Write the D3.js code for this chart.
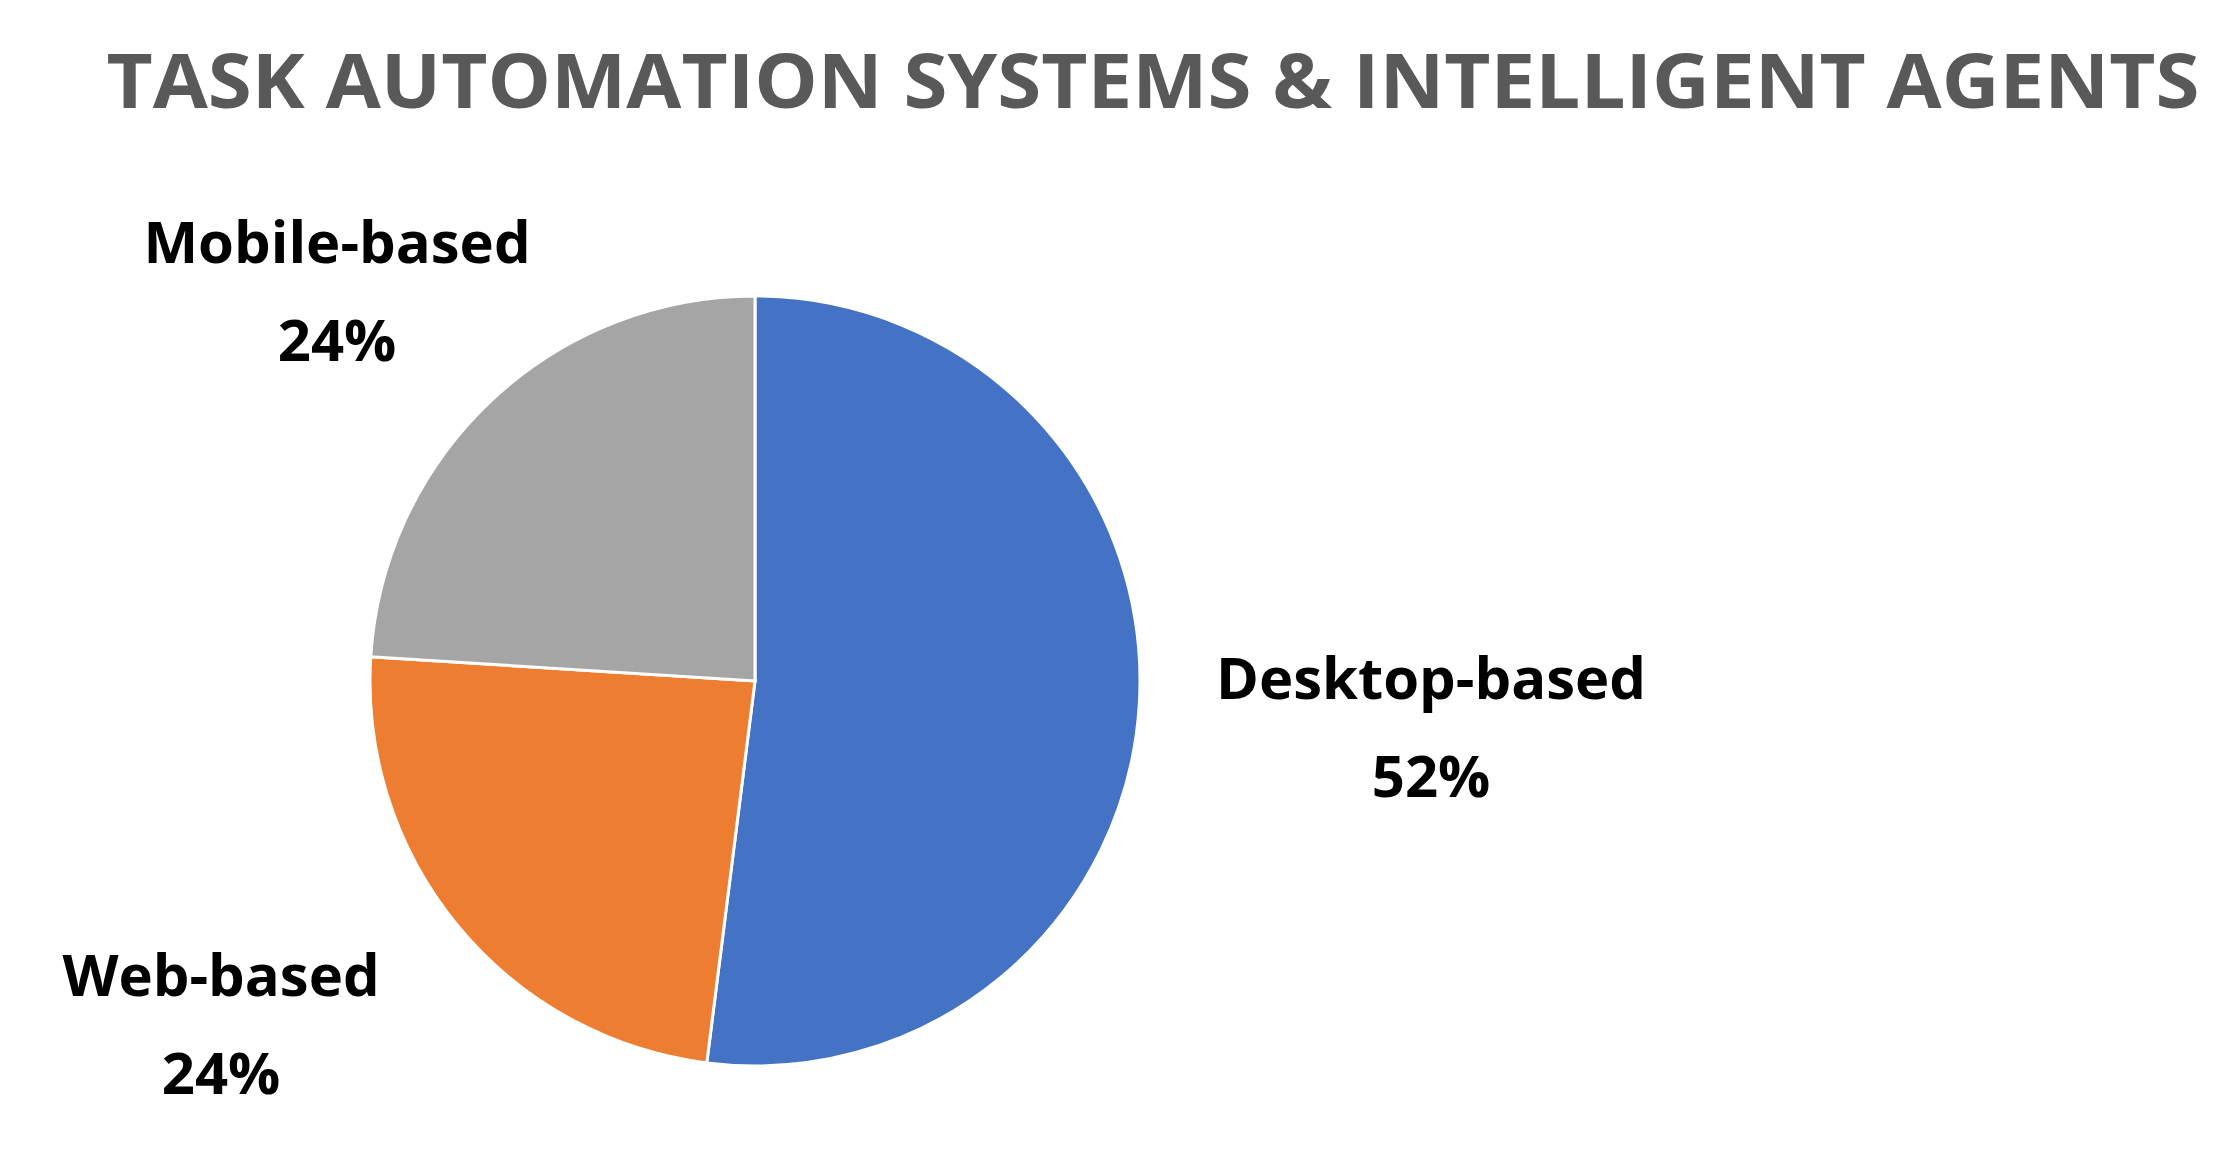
<!DOCTYPE html>
<html>
<head>
<meta charset="utf-8">
<script src="https://cdn.jsdelivr.net/npm/d3@7"></script>
<style>
  body { margin: 0; background: #fff; }
  text { font-family: "Open Sans", "Liberation Sans", sans-serif; font-weight: bold; }
</style>
</head>
<body>
<svg id="chart" width="2233" height="1153"></svg>
<script>
const categories = ["Desktop-based", "Web-based", "Mobile-based"];
const values = [52, 24, 24];
const colors = ["#4472C4", "#ED7D31", "#A5A5A5"];

// label anchor points (pixels), in category order
const labelPos = [[1431, 726], [221, 1023], [337, 290]];

const svg = d3.select("#chart");
const cx = 755, cy = 681, r = 385;

svg.append("text")
  .attr("x", 1153).attr("y", 78)
  .attr("text-anchor", "middle").attr("dominant-baseline", "central")
  .attr("font-size", 76).attr("fill", "#595959")
  .attr("textLength", 2093).attr("lengthAdjust", "spacingAndGlyphs")
  .text("TASK AUTOMATION SYSTEMS & INTELLIGENT AGENTS");

const pie = d3.pie().sort(null).value(d => d)(values);
const arc = d3.arc().innerRadius(0).outerRadius(r);

svg.append("g").attr("transform", "translate(" + cx + "," + cy + ")")
  .selectAll("path").data(pie).enter().append("path")
  .attr("d", arc)
  .attr("fill", (d, i) => colors[i])
  .attr("stroke", "#fff").attr("stroke-width", 3);

const lab = svg.selectAll("g.lab").data(pie).enter().append("g")
  .attr("transform", (d, i) => "translate(" + labelPos[i][0] + "," + labelPos[i][1] + ")");
lab.append("text").attr("y", -50)
  .attr("text-anchor", "middle").attr("dominant-baseline", "central")
  .attr("font-size", 58).attr("fill", "#000")
  .text((d, i) => categories[i]);
lab.append("text").attr("y", 48)
  .attr("text-anchor", "middle").attr("dominant-baseline", "central")
  .attr("font-size", 58).attr("fill", "#000")
  .text(d => d.data + "%");
</script>
</body>
</html>
